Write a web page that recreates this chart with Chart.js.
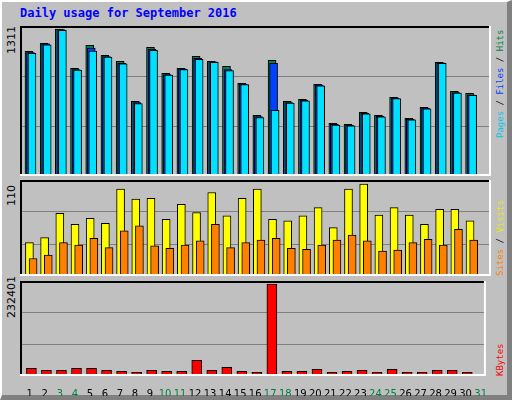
<!DOCTYPE html>
<html>
<head>
<meta charset="utf-8">
<script src="https://cdn.jsdelivr.net/npm/chart.js@4"></script>
<style>
  body { margin: 0; background: #fff; }
  #frame { position: absolute; left: 0; top: 0; width: 505px; height: 393px; background: #C0C0C0;
           border-top: 2px solid #fff; border-left: 2px solid #fff; border-right: 5px solid #808080; border-bottom: 5px solid #808080; }
  .c { position: absolute; }
  #title { position: absolute; left: 20px; top: 6px; font: bold 12px "DejaVu Sans Mono", monospace; color: #0000FF; }
  .rot { position: absolute; transform-origin: 0 0; transform: rotate(-90deg); white-space: nowrap; }
  .ylab { font: 11px "DejaVu Sans", sans-serif; color: #000; }
  .rlab { font: 9px "DejaVu Sans Mono", monospace; }
</style>
</head>
<body>
<div id="frame"></div>
<div id="title">Daily usage for September 2016</div>
<canvas id="top" class="c" width="471" height="150" style="left:20px;top:26px"></canvas>
<canvas id="mid" class="c" width="471" height="96" style="left:20px;top:180px"></canvas>
<canvas id="bot" class="c" width="471" height="115" style="left:20px;top:281px"></canvas>
<div class="rot ylab" style="left:5px;top:54px">1311</div>
<div class="rot ylab" style="left:5px;top:206px">110</div>
<div class="rot ylab" style="left:5px;top:318px">232401</div>
<div class="rot rlab" style="left:495px;top:138px"><span style="color:#00C8E8">Pages</span> / <span style="color:#0040FF">Files</span> / <span style="color:#008040">Hits</span></div>
<div class="rot rlab" style="left:495px;top:276px"><span style="color:#FF8000">Sites</span> / <span style="color:#E8E800">Visits</span></div>
<div class="rot rlab" style="left:495px;top:376px"><span style="color:#FF0000">KBytes</span></div>
<script>
const days = Array.from({ length: 31 }, (_, i) => i + 1);
const weekends = [3, 4, 10, 11, 17, 18, 24, 25, 31];

const hits  = [1112, 1184, 1311, 961, 1166, 1077, 1023, 666, 1148, 916, 961, 1068, 1023, 979, 827, 541, 1032, 666, 684, 818, 470, 461, 568, 541, 702, 515, 613, 1014, 756, 738, 0];
const files = [1100, 1180, 1305, 950, 1140, 1065, 1005, 655, 1130, 905, 955, 1050, 1018, 950, 820, 530, 1004, 655, 675, 810, 460, 452, 560, 532, 695, 505, 605, 1010, 745, 725, 0];
const pages = [1095, 1170, 1300, 945, 1115, 1060, 1000, 645, 1120, 900, 950, 1040, 1015, 940, 815, 520, 586, 650, 670, 805, 455, 448, 555, 528, 690, 500, 600, 1005, 740, 720, 0];

const visits = [40, 46, 75, 62, 69, 63, 104, 92, 93, 68, 86, 76, 100, 72, 93, 104, 68, 66, 72, 82, 58, 104, 110, 73, 82, 73, 62, 80, 80, 66, 0];
const sites  = [21, 25, 40, 37, 45, 34, 54, 60, 36, 33, 37, 42, 62, 34, 40, 43, 45, 33, 32, 37, 43, 49, 42, 30, 31, 40, 44, 37, 56, 43, 0];

const kbytes = [19500, 14400, 14400, 19500, 19500, 14400, 11900, 9400, 14400, 11900, 11900, 39800, 14400, 22000, 11900, 9400, 232401, 11900, 11900, 17000, 9400, 11900, 14400, 9400, 17000, 9400, 9400, 14400, 14400, 9400, 0];

const pts = (arr, shift) => arr.map((v, i) => ({ x: days[i] + shift, y: v }));

// inset border around each plot: dark top/left, light bottom/right
const frame = {
  id: 'frame',
  afterDraw(chart) {
    const a = chart.chartArea, c = chart.ctx;
    c.save();
    c.lineWidth = 2;
    c.strokeStyle = '#000';
    c.beginPath(); c.moveTo(a.left + 1, a.bottom); c.lineTo(a.left + 1, a.top + 1); c.lineTo(a.right, a.top + 1); c.stroke();
    c.strokeStyle = '#fff';
    c.beginPath(); c.moveTo(a.right - 1, a.top); c.lineTo(a.right - 1, a.bottom - 1); c.lineTo(a.left, a.bottom - 1); c.stroke();
    c.restore();
  }
};

function bar(data, color, width, order) {
  return { data, backgroundColor: color, borderColor: '#000', borderWidth: 1, borderSkipped: false,
           barThickness: width, order, grouped: false };
}

function make(id, datasets, ymax, showX) {
  const x = {
    type: 'linear', min: 0.5, max: 31.5, offset: false,
    display: showX,
    grid: { display: false }, border: { display: false },
    ticks: {
      stepSize: 1, autoSkip: false, maxRotation: 0, padding: 4,
      font: { family: 'DejaVu Sans', size: 10 },
      color: c => weekends.includes(Math.round(c.tick.value)) ? '#008040' : '#000',
      callback: v => String(Math.round(v))
    },
    afterBuildTicks: s => { s.ticks = days.map(d => ({ value: d + 0.15 })); }
  };
  if (showX) x.afterFit = s => { s.height = 20; };
  return new Chart(document.getElementById(id), {
    type: 'bar',
    data: { datasets },
    options: {
      responsive: false, animation: false, devicePixelRatio: 1,
      layout: { padding: 0 },
      plugins: { legend: { display: false }, tooltip: { enabled: false } },
      scales: {
        x,
        y: {
          min: 0, max: ymax,
          grid: { color: '#808080', lineWidth: 1, drawTicks: false },
          border: { display: false },
          ticks: { display: false },
          afterBuildTicks: s => { s.ticks = [{ value: ymax / 3 }, { value: ymax * 2 / 3 }]; },
          afterFit: s => { s.width = 0; }
        }
      }
    },
    plugins: [frame]
  });
}

make('top', [
  bar(pts(hits, 0.09), '#008060', 8, 3),
  bar(pts(files, 0.19), '#0040FF', 8, 2),
  bar(pts(pages, 0.29), '#00E0FF', 8, 1)
], 1338, false);

make('mid', [
  bar(pts(visits, 0.12), '#FFFF00', 8, 2),
  bar(pts(sites, 0.36), '#FF8000', 8, 1)
], 115, false);

make('bot', [
  bar(pts(kbytes, 0.26), '#FF0000', 10, 1)
], 240000, true);
</script>
</body>
</html>
